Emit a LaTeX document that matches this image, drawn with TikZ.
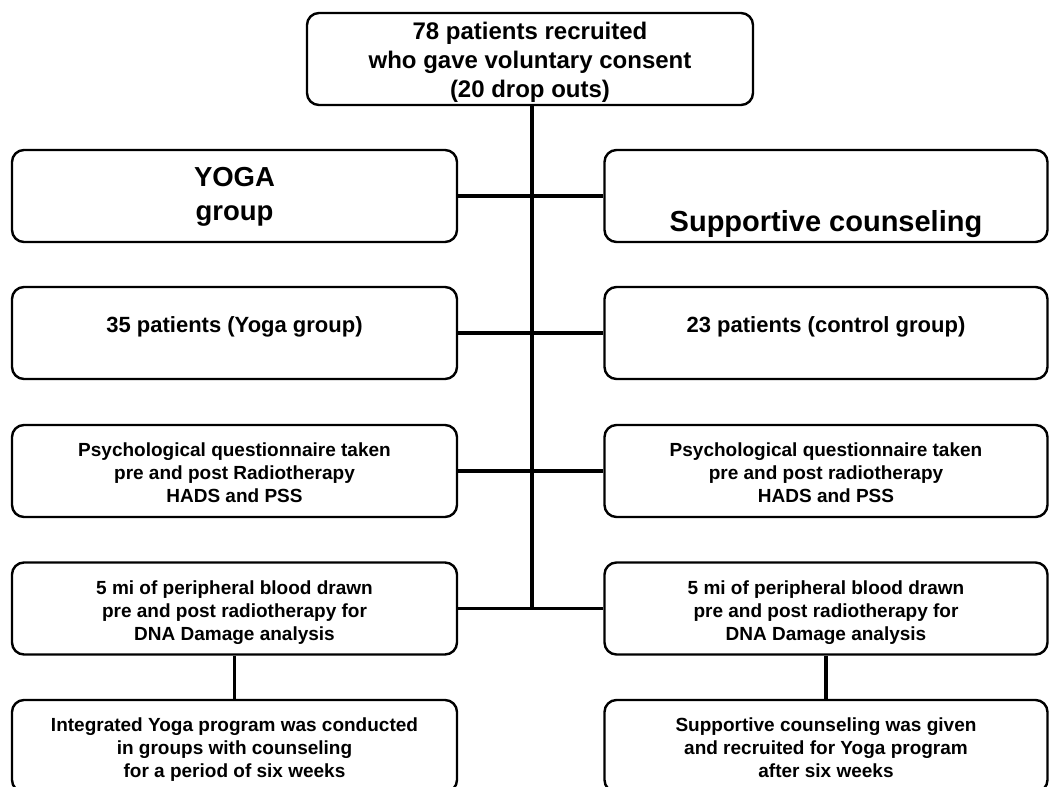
\documentclass[tikz,border=0pt]{standalone}
\usepackage{fontspec}
\setmainfont{Liberation Sans}
\begin{document}
\begin{tikzpicture}[x=1pt,y=-1pt,
  box/.style={draw=black, line width=2.4pt, rounded corners=12pt,
    minimum height=92pt, inner sep=0pt, align=center, font=\bfseries},
  lbox/.style={box, minimum width=445pt},
  rbox/.style={box, minimum width=443pt},
  topfont/.style={font=\bfseries\fontsize{24}{29}\selectfont},
  bigfont/.style={font=\bfseries\fontsize{27.5}{34}\selectfont},
  midfont/.style={font=\bfseries\fontsize{22}{26}\selectfont},
  smallfont/.style={font=\bfseries\fontsize{19}{22.8}\selectfont},
  link/.style={draw=black, line width=3.4pt}]
\useasboundingbox (0,0) rectangle (1050,787);
\clip (0,0) rectangle (1050,787);
\fill[white] (0,0) rectangle (1050,787);

% recruitment
\node[box, topfont, minimum width=446pt, text height=76pt, text depth=0pt] (top) at (530,59)
  {78 patients recruited\\who gave voluntary consent\\(20 drop outs)};

% arms
\node[lbox, bigfont, text height=48pt, text depth=0pt] (yoga) at (234.5,196) {YOGA\\group};
\node[rbox, font=\bfseries\fontsize{29}{33}\selectfont,
  text height=70pt, text depth=0pt] (sc) at (826,196) {Supportive counseling};

% group sizes
\node[lbox, midfont, text height=16pt, text depth=18pt] (ny) at (234.5,333)
  {35 patients (Yoga group)};
\node[rbox, midfont, text height=16pt, text depth=18pt] (nc) at (826,333)
  {23 patients (control group)};

% questionnaires
\node[lbox, smallfont, text height=62pt, text depth=0pt] (qy) at (234.5,471)
  {Psychological questionnaire taken\\pre and post Radiotherapy\\HADS and PSS};
\node[rbox, smallfont, text height=62pt, text depth=0pt] (qc) at (826,471)
  {Psychological questionnaire taken\\pre and post radiotherapy\\HADS and PSS};

% blood sampling
\node[lbox, smallfont, text height=63pt, text depth=0pt] (by) at (234.5,608.5)
  {5 mi of peripheral blood drawn\\pre and post radiotherapy for\\DNA Damage analysis};
\node[rbox, smallfont, text height=63pt, text depth=0pt] (bc) at (826,608.5)
  {5 mi of peripheral blood drawn\\pre and post radiotherapy for\\DNA Damage analysis};

% interventions
\node[lbox, smallfont, text height=62pt, text depth=0pt] (iy) at (234.5,746)
  {Integrated Yoga program was conducted\\in groups with counseling\\for a period of six weeks};
\node[rbox, smallfont, text height=62pt, text depth=0pt] (ic) at (826,746)
  {Supportive counseling was given\\and recruited for Yoga program\\after six weeks};

% trunk and branches
\coordinate (trunkend) at ([xshift=2pt]top.south |- by.east);
\draw[link] ([xshift=2pt]top.south) -- (trunkend);
\draw[link] (yoga.east) -- (sc.west);
\draw[link] (ny.east) -- (nc.west);
\draw[link] (qy.east) -- (qc.west);
\draw[link] (by.east) -- (bc.west);
\draw[link] (by.south) -- (iy.north);
\draw[link] (bc.south) -- (ic.north);
\end{tikzpicture}
\end{document}
